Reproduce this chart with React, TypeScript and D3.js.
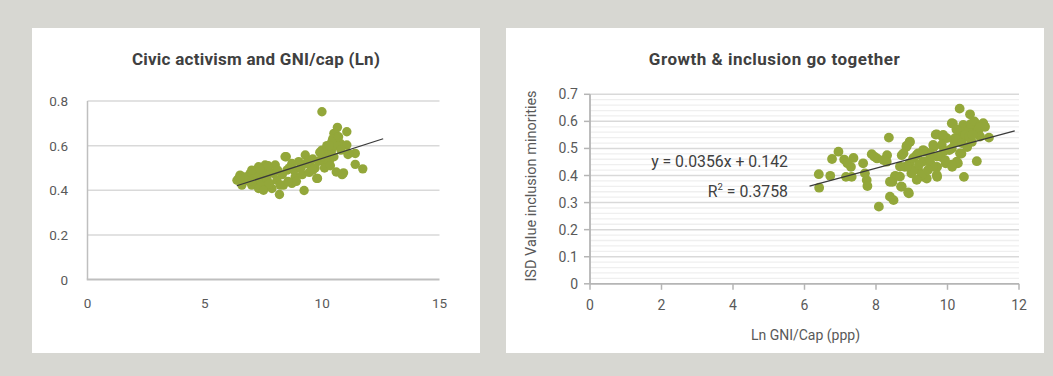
import React from "react";
import * as d3 from "d3";

// ---- Left panel: Civic activism vs ln GNI per capita ----
const civicPoints: [number, number][] = [
  [9.99, 0.752], [8.18, 0.381], [9.23, 0.399], [11.73, 0.496], [11.41, 0.516],
  [11.41, 0.565], [11.1, 0.56], [10.91, 0.478], [10.6, 0.482], [10.85, 0.47],
  [10.65, 0.682], [11.05, 0.662], [10.5, 0.655], [9.8, 0.453], [8.47, 0.55],
  [6.37, 0.445], [10.55, 0.655], [10.41, 0.617], [10.77, 0.61], [11.05, 0.603],
  [11.12, 0.565], [10.13, 0.52], [10.27, 0.565], [9.99, 0.58], [9.77, 0.453],
  [9.28, 0.558], [9.42, 0.535], [9.0, 0.528], [8.71, 0.52], [8.85, 0.46],
  [8.42, 0.55], [8.5, 0.49], [8.71, 0.431], [8.35, 0.423], [8.0, 0.513],
  [7.93, 0.475], [8.07, 0.445], [7.57, 0.513], [7.29, 0.505], [7.43, 0.46],
  [7.57, 0.415], [7.15, 0.431], [6.93, 0.475], [6.72, 0.445], [6.5, 0.468],
  [6.58, 0.423], [7.0, 0.423], [7.29, 0.408], [7.86, 0.408], [8.21, 0.423],
  [6.45, 0.455], [6.6, 0.44], [6.8, 0.46], [6.9, 0.44], [7.1, 0.45],
  [7.2, 0.47], [7.4, 0.44], [7.5, 0.48], [7.65, 0.45], [7.8, 0.48],
  [7.75, 0.43], [8.1, 0.49], [8.3, 0.47], [8.6, 0.5], [8.8, 0.49],
  [9.1, 0.5], [9.3, 0.52], [9.5, 0.51], [9.6, 0.54], [9.7, 0.5],
  [9.85, 0.53], [10.0, 0.55], [10.3, 0.53], [10.4, 0.58], [10.6, 0.6],
  [10.5, 0.55], [10.2, 0.6], [9.9, 0.57], [7.0, 0.49], [7.35, 0.495],
  [7.7, 0.51], [6.65, 0.46], [8.9, 0.44], [8.55, 0.44], [7.5, 0.4],
  [6.5, 0.453], [9.15, 0.47], [9.45, 0.48], [10.1, 0.5], [10.35, 0.51],
  [10.45, 0.63], [10.7, 0.64], [10.3, 0.6], [10.8, 0.58], [9.6, 0.49],
];
const civicTrend = { slope: 0.0338, intercept: 0.205, from: 6.36, to: 12.6 };
const civicXTicks = [0, 5, 10, 15];
const civicYTicks = [0, 0.2, 0.4, 0.6, 0.8];

// ---- Right panel: inclusion of minorities vs ln GNI per capita ----
const inclusionPoints: [number, number][] = [
  [6.4, 0.405], [6.41, 0.355], [6.72, 0.399], [6.77, 0.461], [6.95, 0.488],
  [7.11, 0.459], [7.16, 0.395], [7.3, 0.432], [7.37, 0.465], [7.32, 0.395],
  [7.2, 0.445], [7.64, 0.445], [7.74, 0.383], [7.76, 0.361], [7.69, 0.408],
  [7.88, 0.479], [8.03, 0.463], [8.08, 0.285], [7.95, 0.47], [8.31, 0.475],
  [8.36, 0.54], [8.3, 0.451], [8.39, 0.322], [8.49, 0.309], [8.46, 0.377],
  [8.54, 0.399], [8.7, 0.359], [8.72, 0.475], [8.85, 0.506], [8.94, 0.524],
  [8.92, 0.334], [8.8, 0.432], [8.99, 0.408], [8.94, 0.445], [9.13, 0.475],
  [9.18, 0.42], [9.33, 0.395], [9.38, 0.488], [9.42, 0.389], [9.52, 0.445],
  [9.67, 0.551], [9.71, 0.432], [9.71, 0.395], [9.62, 0.506], [9.86, 0.543],
  [9.81, 0.469], [9.95, 0.445], [10.05, 0.494], [10.13, 0.432], [10.15, 0.592],
  [10.2, 0.524], [10.29, 0.445], [10.34, 0.647], [10.39, 0.481], [10.46, 0.395],
  [10.53, 0.58], [10.63, 0.626], [10.68, 0.524], [10.73, 0.567], [10.82, 0.453],
  [10.97, 0.589], [11.16, 0.54], [10.87, 0.567], [10.12, 0.593], [10.44, 0.587],
  [11.0, 0.593], [10.82, 0.575], [10.58, 0.568], [10.35, 0.562], [10.91, 0.544],
  [10.44, 0.538], [10.21, 0.538], [9.98, 0.538], [9.7, 0.552], [9.88, 0.55],
  [9.6, 0.513], [9.84, 0.513], [10.12, 0.5], [10.35, 0.482], [10.26, 0.451],
  [10.12, 0.44], [9.93, 0.457], [9.7, 0.47], [9.51, 0.482], [9.32, 0.494],
  [9.18, 0.482], [9.04, 0.464], [9.32, 0.452], [9.6, 0.433], [9.7, 0.402],
  [9.28, 0.402], [9.04, 0.42], [8.86, 0.433], [8.67, 0.433], [8.95, 0.525],
  [8.86, 0.51], [8.77, 0.482], [8.21, 0.457], [8.53, 0.396], [8.72, 0.359],
  [8.39, 0.377], [9.14, 0.384], [8.67, 0.396], [8.9, 0.338],
  [10.5, 0.55], [10.65, 0.59], [10.75, 0.6], [10.6, 0.545], [10.9, 0.58],
  [10.4, 0.52], [10.55, 0.505], [10.7, 0.55], [11.05, 0.58], [10.25, 0.57],
  [9.9, 0.49], [9.5, 0.46], [9.2, 0.44], [9.45, 0.42],
];
const inclusionTrend = { slope: 0.0356, intercept: 0.142, from: 6.14, to: 11.88 };
const inclusionR2 = 0.3758;
const inclusionXTicks = [0, 2, 4, 6, 8, 10, 12];
const inclusionYTicks = [0, 0.1, 0.2, 0.3, 0.4, 0.5, 0.6, 0.7];
const inclusionMinorStep = 0.02;

const W = 1053;
const H = 376;
const FONT = "Roboto, 'DejaVu Sans', sans-serif";
const DOT = "#93a73a";
const TEXT = "#595959";

function CivicChart() {
  const x = d3.scaleLinear().domain([0, 15]).range([87.5, 439.5]);
  const y = d3.scaleLinear().domain([0, 0.8]).range([279.5, 101]);
  const line = d3
    .line<number>()
    .x((d) => x(d))
    .y((d) => y(civicTrend.slope * d + civicTrend.intercept));
  return (
    <g>
      <rect x={32} y={28} width={448} height={325} fill="#ffffff" />
      <text x={256} y={65} textAnchor="middle" fontFamily={FONT} fontWeight="bold" fontSize={17} letterSpacing={0.25} fill="#404040">
        Civic activism and GNI/cap (Ln)
      </text>
      {civicYTicks.filter((v) => v > 0).map((v) => (
        <line key={v} x1={x(0)} x2={x(15)} y1={y(v)} y2={y(v)} stroke="#d9d9d9" strokeWidth={1.5} />
      ))}
      <line x1={x(0)} x2={x(0)} y1={y(0)} y2={y(0.8)} stroke="#bfbfbf" strokeWidth={1.5} />
      <line x1={x(0) - 0.75} x2={x(15)} y1={y(0)} y2={y(0)} stroke="#bfbfbf" strokeWidth={2} />
      {civicYTicks.map((v) => (
        <text key={v} x={68} y={y(v) + 5} textAnchor="end" fontFamily={FONT} fontSize={13.5} fill={TEXT}>
          {d3.format(".1~f")(v)}
        </text>
      ))}
      {civicXTicks.map((v) => (
        <text key={v} x={x(v)} y={307.5} textAnchor="middle" fontFamily={FONT} fontSize={13.5} fill={TEXT}>
          {v}
        </text>
      ))}
      {civicPoints.map(([a, b], i) => (
        <circle key={i} cx={x(a)} cy={y(b)} r={4.7} fill={DOT} />
      ))}
      <path d={line([civicTrend.from, civicTrend.to]) ?? ""} stroke="#3a3a3a" strokeWidth={1.2} fill="none" />
    </g>
  );
}

function InclusionChart() {
  const x = d3.scaleLinear().domain([0, 12]).range([590, 1019]);
  const y = d3.scaleLinear().domain([0, 0.7]).range([283.8, 94.3]);
  const line = d3
    .line<number>()
    .x((d) => x(d))
    .y((d) => y(inclusionTrend.slope * d + inclusionTrend.intercept));
  const minor = d3.range(0, 0.7001, inclusionMinorStep).filter((v) => Math.abs(v * 10 - Math.round(v * 10)) > 1e-6);
  return (
    <g>
      <rect x={506} y={28} width={538} height={325} fill="#ffffff" />
      <text x={774.5} y={65} textAnchor="middle" fontFamily={FONT} fontWeight="bold" fontSize={17} letterSpacing={0.5} fill="#404040">
        Growth &amp; inclusion go together
      </text>
      {minor.map((v) => (
        <line key={"m" + v} x1={x(0)} x2={x(12)} y1={y(v)} y2={y(v)} stroke="#efefef" strokeWidth={1.3} />
      ))}
      {inclusionYTicks.filter((v) => v > 0).map((v) => (
        <line key={v} x1={x(0)} x2={x(12)} y1={y(v)} y2={y(v)} stroke="#d9d9d9" strokeWidth={1.5} />
      ))}
      <line x1={x(0)} x2={x(0)} y1={y(0)} y2={y(0.7)} stroke="#b5b5b5" strokeWidth={1.8} />
      <line x1={x(0)} x2={x(12)} y1={y(0)} y2={y(0)} stroke="#b5b5b5" strokeWidth={1.8} />
      {inclusionYTicks.map((v) => (
        <line key={"yt" + v} x1={x(0) - 6} x2={x(0)} y1={y(v)} y2={y(v)} stroke="#b5b5b5" strokeWidth={1.5} />
      ))}
      {inclusionXTicks.map((v) => (
        <line key={"xt" + v} x1={x(v)} x2={x(v)} y1={y(0)} y2={y(0) + 6} stroke="#b5b5b5" strokeWidth={1.5} />
      ))}
      {inclusionYTicks.map((v) => (
        <text key={v} x={578} y={y(v) + 5} textAnchor="end" fontFamily={FONT} fontSize={14} fill={TEXT}>
          {d3.format(".1~f")(v)}
        </text>
      ))}
      {inclusionXTicks.map((v) => (
        <text key={v} x={x(v)} y={310} textAnchor="middle" fontFamily={FONT} fontSize={14} fill={TEXT}>
          {v}
        </text>
      ))}
      <text
        transform="translate(536,186) rotate(-90)"
        textAnchor="middle"
        fontFamily={FONT}
        fontSize={14.5}
        fill={TEXT}
      >
        ISD Value inclusion minorities
      </text>
      <text x={805.5} y={340} textAnchor="middle" fontFamily={FONT} fontSize={14} fill={TEXT}>
        Ln GNI/Cap (ppp)
      </text>
      {inclusionPoints.map(([a, b], i) => (
        <circle key={i} cx={x(a)} cy={y(b)} r={4.9} fill={DOT} />
      ))}
      <path d={line([inclusionTrend.from, inclusionTrend.to]) ?? ""} stroke="#3a3a3a" strokeWidth={1.2} fill="none" />
      <text x={788} y={166.7} textAnchor="end" fontFamily={FONT} fontSize={15.8} fill="#404040">
        {`y = ${inclusionTrend.slope}x + ${inclusionTrend.intercept}`}
      </text>
      <text x={788} y={196.7} textAnchor="end" fontFamily={FONT} fontSize={15.8} fill="#404040">
        R<tspan fontSize={9.5} dy={-6.5}>2</tspan>
        <tspan dy={6.5}>{` = ${inclusionR2}`}</tspan>
      </text>
    </g>
  );
}

export default function App() {
  return (
    <svg
      width={W}
      height={H}
      viewBox={`0 0 ${W} ${H}`}
      style={{ position: "absolute", left: 0, top: 0, display: "block" }}
    >
      <rect x={0} y={0} width={W} height={H} fill="#d7d7d2" />
      <CivicChart />
      <InclusionChart />
    </svg>
  );
}
